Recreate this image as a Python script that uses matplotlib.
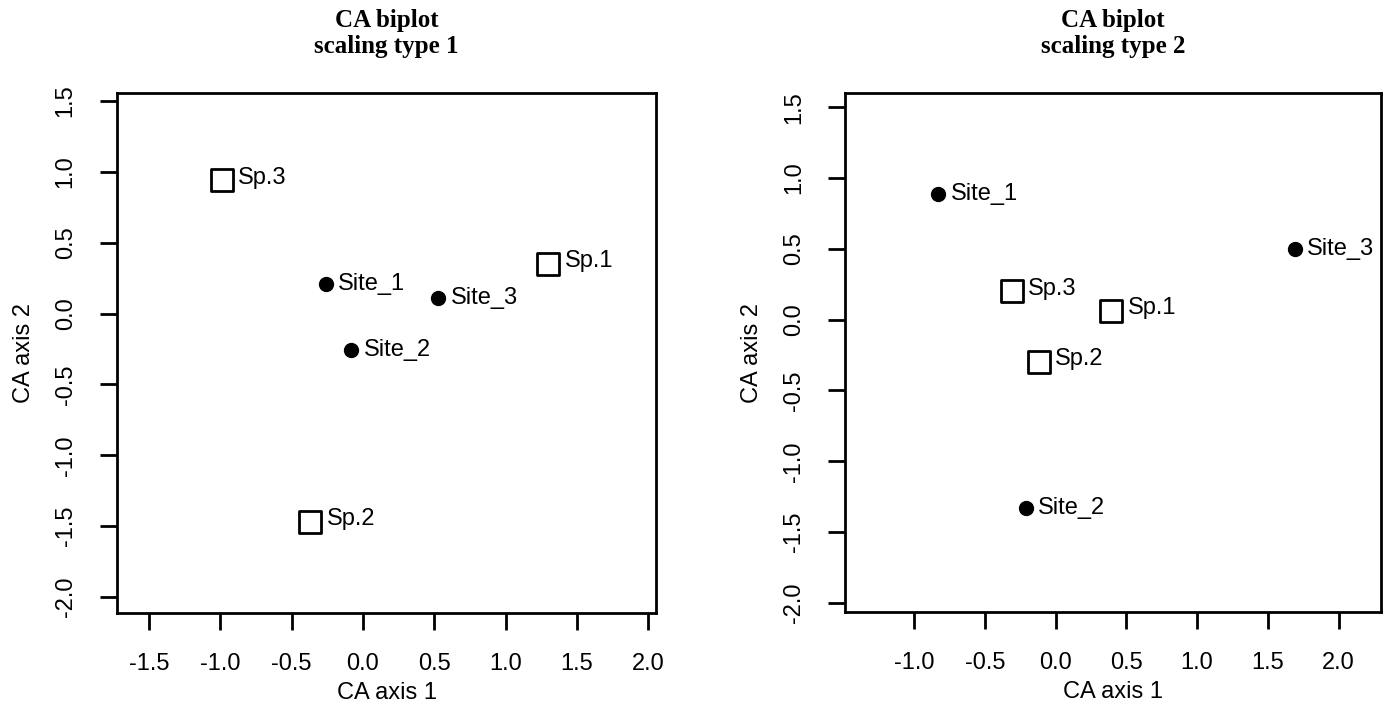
import matplotlib
matplotlib.use("Agg")
import matplotlib.pyplot as plt
import numpy as np

plt.rcParams['font.family'] = ['Liberation Sans', 'DejaVu Sans']

# Scaling type 1
sites = ["Site_1", "Site_2", "Site_3"]
species = ["Sp.1", "Sp.2", "Sp.3"]
s1_site_x = [-0.26, -0.08, 0.53]
s1_site_y = [0.21, -0.26, 0.11]
s1_sp_x = [1.30, -0.37, -0.99]
s1_sp_y = [0.35, -1.47, 0.94]

# Scaling type 2
s2_site_x = [-0.83, -0.21, 1.69]
s2_site_y = [0.89, -1.33, 0.50]
s2_sp_x = [0.39, -0.12, -0.31]
s2_sp_y = [0.06, -0.30, 0.20]

xticks1 = [-1.5, -1.0, -0.5, 0.0, 0.5, 1.0, 1.5, 2.0]
xticks2 = [-1.0, -0.5, 0.0, 0.5, 1.0, 1.5, 2.0]
yticks = [-2.0, -1.5, -1.0, -0.5, 0.0, 0.5, 1.0, 1.5]

fig = plt.figure(figsize=(13.86, 7.06), dpi=100)
ax1 = fig.add_axes([0.0844, 0.1317, 0.389, 0.7365])
ax2 = fig.add_axes([0.6097, 0.1331, 0.3867, 0.735])

panels = [
    (ax1, s1_site_x, s1_site_y, s1_sp_x, s1_sp_y, xticks1, (-1.724, 2.056), (-2.113, 1.556), "CA biplot\nscaling type 1"),
    (ax2, s2_site_x, s2_site_y, s2_sp_x, s2_sp_y, xticks2, (-1.488, 2.30), (-2.064, 1.599), "CA biplot\nscaling type 2"),
]

FS = 17
for ax, sx, sy, px, py, xt, xl, yl, title in panels:
    ax.scatter(sx, sy, s=100, c='black', marker='o', zorder=3)
    ax.scatter(px, py, s=250, facecolors='none', edgecolors='black', marker='s', linewidths=2, zorder=3)
    for x, y, lab in zip(sx, sy, sites):
        ax.annotate(lab, (x, y), xytext=(9, 0), textcoords='offset points',
                    ha='left', va='center', fontsize=FS)
    for x, y, lab in zip(px, py, species):
        ax.annotate(lab, (x, y), xytext=(12, 2), textcoords='offset points',
                    ha='left', va='center', fontsize=FS)
    ax.set_xlim(*xl)
    ax.set_ylim(*yl)
    ax.set_xticks(xt)
    ax.set_xticklabels([f"{v:.1f}" for v in xt])
    ax.set_yticks(yticks)
    ax.set_yticklabels([f"{v:.1f}" for v in yticks], rotation=90, va='center')
    ax.tick_params(axis='both', direction='out', length=12, width=2, labelsize=FS)
    ax.tick_params(axis='x', pad=17)
    ax.tick_params(axis='y', pad=17)
    for sp in ax.spines.values():
        sp.set_linewidth(2)
    ax.set_xlabel("CA axis 1", fontsize=FS, labelpad=5)
    ax.set_ylabel("CA axis 2", fontsize=FS, labelpad=14)
    ax.set_title(title, fontsize=18, fontweight='bold', family='Liberation Serif', pad=29, linespacing=1.15)

fig.savefig("out.png", dpi=100)
